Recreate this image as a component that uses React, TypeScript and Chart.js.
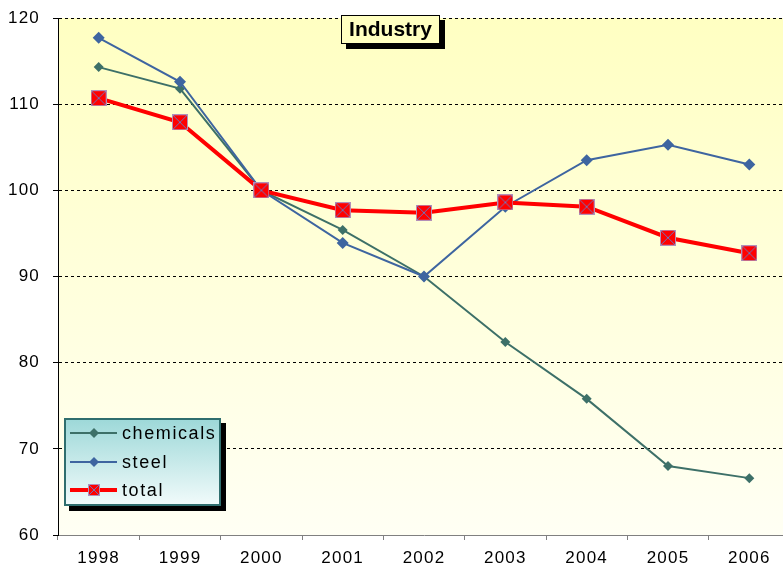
import React, { useEffect, useRef } from 'react';
import { Chart, registerables } from 'chart.js';

Chart.register(...registerables);

const years = ['1998', '1999', '2000', '2001', '2002', '2003', '2004', '2005', '2006'];
const chemicals = [114.3, 111.8, 100, 95.4, 90.0, 82.4, 75.8, 68.0, 66.6];
const steel = [117.7, 112.6, 100, 93.9, 90.0, 98.1, 103.5, 105.3, 103.0];
const total = [110.7, 107.9, 100, 97.7, 97.4, 98.6, 98.1, 94.5, 92.7];
const seriesNames = ['chemicals', 'steel', 'total'];
const titleText = 'Industry';
const yMin = 60;
const yMax = 120;
const yStep = 10;

const CHEM = '#3D7068';
const STEEL = '#3E65A0';
const TOTAL = '#FF0000';

function makeSquare(size: number) {
  const c = document.createElement('canvas');
  c.width = size;
  c.height = size;
  const g = c.getContext('2d')!;
  g.fillStyle = TOTAL;
  g.fillRect(0, 0, size, size);
  g.strokeStyle = '#B38FB8';
  g.lineWidth = 1;
  g.strokeRect(0.5, 0.5, size - 1, size - 1);
  g.strokeStyle = '#7272B8';
  g.beginPath();
  g.moveTo(1, 1);
  g.lineTo(size - 1, size - 1);
  g.moveTo(size - 1, 1);
  g.lineTo(1, size - 1);
  g.stroke();
  return c;
}

function diamond(ctx: CanvasRenderingContext2D, x: number, y: number, r: number, color: string) {
  ctx.beginPath();
  ctx.moveTo(x - r, y);
  ctx.lineTo(x, y - r);
  ctx.lineTo(x + r, y);
  ctx.lineTo(x, y + r);
  ctx.closePath();
  ctx.fillStyle = color;
  ctx.fill();
}

let legendSquare: HTMLCanvasElement;

const decorPlugin = {
  id: 'decor',
  beforeDraw(chart: any) {
    const { ctx, chartArea: a } = chart;
    ctx.save();
    const g = ctx.createLinearGradient(0, a.top, 0, a.bottom);
    g.addColorStop(0, '#FFFFC2');
    g.addColorStop(1, '#FFFFF4');
    ctx.fillStyle = g;
    ctx.fillRect(a.left, a.top, a.right - a.left, a.bottom - a.top);
    ctx.restore();
    (ctx as any).letterSpacing = '1.2px';
  },
  afterDraw(chart: any) {
    const ctx: CanvasRenderingContext2D = chart.ctx;
    ctx.save();
    // Title box
    const tx = 341, ty = 15, tw = 99, th = 29;
    ctx.fillStyle = '#000';
    ctx.fillRect(tx + 5, ty + 5, tw, th);
    ctx.fillStyle = '#FFFFC0';
    ctx.fillRect(tx, ty, tw, th);
    ctx.strokeStyle = '#000';
    ctx.lineWidth = 1;
    ctx.strokeRect(tx + 0.5, ty + 0.5, tw - 1, th - 1);
    (ctx as any).letterSpacing = '0px';
    ctx.font = 'bold 21px "Liberation Sans", Arial, sans-serif';
    ctx.fillStyle = '#000';
    ctx.textAlign = 'center';
    ctx.textBaseline = 'middle';
    ctx.fillText(titleText, tx + tw / 2, ty + th / 2 + 1);

    // Legend box
    const lx = 64, ly = 418, lw = 157, lh = 88;
    ctx.fillStyle = '#000';
    ctx.fillRect(lx + 5, ly + 5, lw, lh);
    const lg = ctx.createLinearGradient(0, ly, 0, ly + lh);
    lg.addColorStop(0, '#9CD8D8');
    lg.addColorStop(1, '#F2FBFB');
    ctx.fillStyle = lg;
    ctx.fillRect(lx, ly, lw, lh);
    ctx.strokeStyle = '#2F6E6E';
    ctx.lineWidth = 2;
    ctx.strokeRect(lx + 1, ly + 1, lw - 2, lh - 2);

    const rows = [433, 462, 490];
    const colors = [CHEM, STEEL, TOTAL];
    (ctx as any).letterSpacing = '1.6px';
    ctx.font = '18px "Liberation Sans", Arial, sans-serif';
    ctx.textAlign = 'left';
    ctx.textBaseline = 'middle';
    rows.forEach((ry, i) => {
      ctx.strokeStyle = colors[i];
      ctx.lineWidth = i === 2 ? 4 : 2;
      ctx.beginPath();
      ctx.moveTo(70, ry);
      ctx.lineTo(117, ry);
      ctx.stroke();
      if (i < 2) {
        diamond(ctx, 94, ry, 5, colors[i]);
      } else {
        ctx.drawImage(legendSquare, 88, ry - 6);
      }
      ctx.fillStyle = '#000';
      ctx.fillText(seriesNames[i], 122, ry + 1);
    });
    ctx.restore();
  },
};

export default function App() {
  const ref = useRef<HTMLCanvasElement>(null);
  useEffect(() => {
    legendSquare = makeSquare(12);
    const marker = makeSquare(16);
    const tickFont = { family: '"Liberation Sans", Arial, sans-serif', size: 17 };
    const chart = new Chart(ref.current!, {
      type: 'line',
      data: {
        labels: years,
        datasets: [
          {
            label: seriesNames[0],
            data: chemicals,
            borderColor: CHEM,
            backgroundColor: CHEM,
            borderWidth: 2,
            pointStyle: 'rectRot',
            pointRadius: 5,
            pointBorderWidth: 0,
            pointBackgroundColor: CHEM,
            tension: 0,
            order: 3,
          },
          {
            label: seriesNames[1],
            data: steel,
            borderColor: STEEL,
            backgroundColor: STEEL,
            borderWidth: 2,
            pointStyle: 'rectRot',
            pointRadius: 6,
            pointBorderWidth: 0,
            pointBackgroundColor: STEEL,
            tension: 0,
            order: 2,
          },
          {
            label: seriesNames[2],
            data: total,
            borderColor: TOTAL,
            backgroundColor: TOTAL,
            borderWidth: 4,
            pointStyle: marker as any,
            pointRadius: 8,
            tension: 0,
            order: 1,
          },
        ],
      },
      options: {
        responsive: false,
        animation: false,
        devicePixelRatio: 1,
        layout: { autoPadding: false, padding: { top: 18, right: 0, left: 0, bottom: 0 } },
        plugins: { legend: { display: false }, title: { display: false }, tooltip: { enabled: false } },
        scales: {
          x: {
            offset: true,
            grid: { drawOnChartArea: false, drawTicks: true, tickLength: 5, tickColor: '#808080', offset: true },
            border: { color: '#808080', width: 1 },
            ticks: { color: '#000', font: tickFont, padding: 8, maxRotation: 0, autoSkip: false },
            afterFit: (s: any) => {
              s.height = 31;
              s.paddingLeft = 0;
              s.paddingRight = 0;
            },
          },
          y: {
            min: yMin,
            max: yMax,
            grid: {
              color: (c: any) => (c.tick && c.tick.value === yMin ? 'rgba(0,0,0,0)' : '#000'),
              tickColor: '#000',
              tickLength: 5,
              lineWidth: 1,
            },
            border: { color: '#000', width: 1, dash: [3, 3] },
            ticks: { stepSize: yStep, color: '#000', font: tickFont, padding: 13 },
            afterFit: (s: any) => {
              s.width = 58;
              s.paddingTop = 0;
              s.paddingBottom = 0;
            },
          },
        },
      },
      plugins: [decorPlugin],
    });
    return () => chart.destroy();
  }, []);
  return (
    <div style={{ position: 'fixed', left: 0, top: 0, width: 790, height: 566 }}>
      <canvas ref={ref} width={790} height={566} style={{ display: 'block' }} />
    </div>
  );
}
